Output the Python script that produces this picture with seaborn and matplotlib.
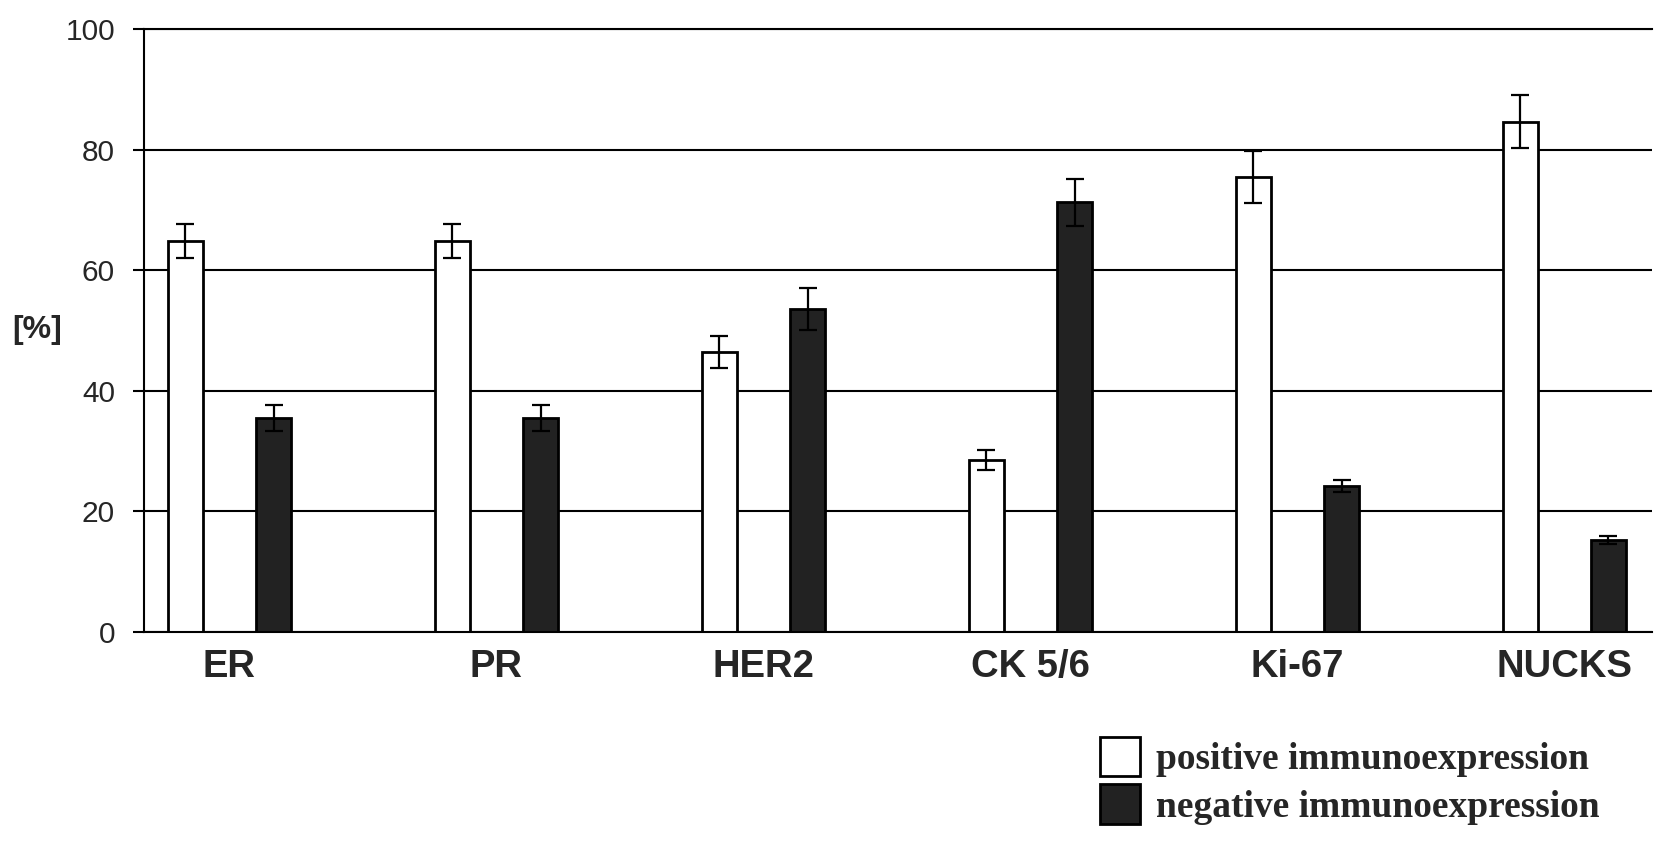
import pandas as pd
import matplotlib
matplotlib.use("Agg")
import matplotlib.pyplot as plt
from matplotlib.patches import Patch
import seaborn as sns

# values
markers = ["ER", "PR", "HER2", "CK 5/6", "Ki-67", "NUCKS"]
positive = [64.8, 64.8, 46.4, 28.5, 75.4, 84.6]
positive_err = [2.8, 2.8, 2.7, 1.6, 4.3, 4.4]
negative = [35.5, 35.5, 53.5, 71.3, 24.2, 15.3]
negative_err = [2.1, 2.1, 3.5, 3.9, 1.0, 0.7]
groups = ["positive immunoexpression", "negative immunoexpression"]
yticks = [0, 20, 40, 60, 80, 100]

df = pd.DataFrame({
    "marker": markers * 2,
    "group": [groups[0]] * len(markers) + [groups[1]] * len(markers),
    "value": positive + negative,
})

sns.set_style("white")
plt.rcParams["font.family"] = ["Liberation Sans", "DejaVu Sans"]

fig = plt.figure(figsize=(16.77, 8.43), dpi=100)
ax = fig.add_axes([0.0859, 0.2503, 0.8992, 0.7153])
ax.set_axisbelow(True)

colors = {groups[0]: "white", groups[1]: "#222222"}
sns.barplot(data=df, x="marker", y="value", hue="group", hue_order=groups,
            order=markers, palette=colors, edgecolor="black", linewidth=2,
            width=0.66, gap=0.597, errorbar=None, legend=False, ax=ax)

# error bars on top of each bar
for cont, vals, errs in zip(ax.containers, [positive, negative], [positive_err, negative_err]):
    xs = [p.get_x() + p.get_width() / 2 for p in cont.patches]
    ax.errorbar(xs, vals, yerr=errs, fmt="none", ecolor="black",
                elinewidth=1.6, capsize=6.5, capthick=1.6, zorder=3)

ax.set_xlim(-0.32, 5.328)
ax.set_ylim(0, 100)
ax.set_yticks(yticks)
ax.yaxis.grid(True, color="black", linewidth=1.5)
ax.xaxis.grid(False)

for side in ["left", "bottom", "top"]:
    ax.spines[side].set_visible(True)
    ax.spines[side].set_color("black")
    ax.spines[side].set_linewidth(1.5)
ax.spines["right"].set_visible(False)

ax.tick_params(axis="y", direction="out", length=8, width=1.5, color="black",
               pad=13, labelsize=21.5, left=True)
ax.tick_params(axis="x", length=0, pad=12)
for lab in ax.get_xticklabels():
    lab.set_fontsize(27.5)
    lab.set_fontweight("bold")

ax.set_xlabel("")
ax.set_ylabel("[%]", rotation=0, fontsize=23, fontweight="bold", ha="center", va="center")
ax.yaxis.set_label_coords(-0.071, 0.5)

handles = [Patch(facecolor="white", edgecolor="black", linewidth=2),
           Patch(facecolor="#222222", edgecolor="black", linewidth=2)]
fig.legend(handles, groups, loc="upper left", bbox_to_anchor=(0.656, 0.1257),
           frameon=False, borderpad=0, borderaxespad=0, handlelength=1.07,
           handleheight=1.23, handletextpad=0.43, labelspacing=0.19,
           prop={"family": "Liberation Serif", "weight": "bold", "size": 27})

fig.savefig("out.png", dpi=100, facecolor="white")
